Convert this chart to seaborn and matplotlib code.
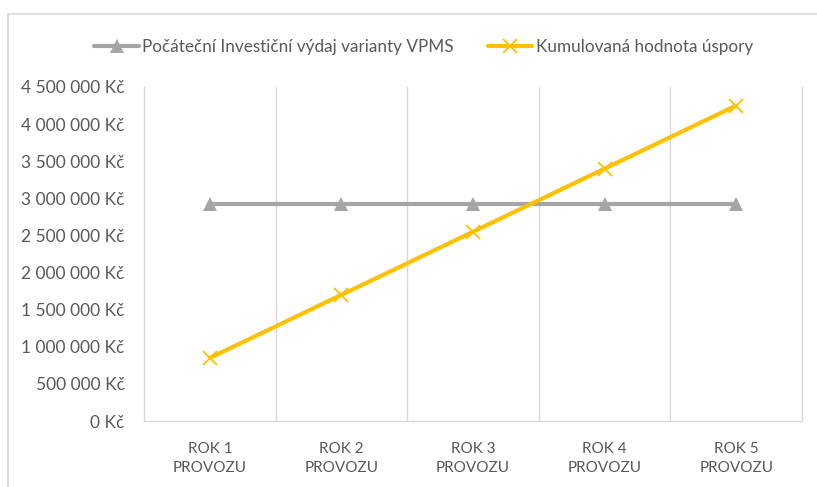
import matplotlib
matplotlib.use('Agg')
import matplotlib.pyplot as plt
import matplotlib.ticker as mticker
import seaborn as sns
import pandas as pd

# Data
roky = ['ROK 1\nPROVOZU', 'ROK 2\nPROVOZU', 'ROK 3\nPROVOZU', 'ROK 4\nPROVOZU', 'ROK 5\nPROVOZU']
investicni_vydaj = [2930000, 2930000, 2930000, 2930000, 2930000]
kumulovana_uspora = [850000, 1700000, 2550000, 3400000, 4250000]
nazev_vydaj = 'Počáteční Investiční výdaj varianty VPMS'
nazev_uspora = 'Kumulovaná hodnota úspory'

df = pd.DataFrame({'rok': roky, 'vydaj': investicni_vydaj, 'uspora': kumulovana_uspora})

sns.set_style('white')
plt.rcParams['font.family'] = ['Lato', 'DejaVu Sans']
text_col = '#595959'
grid_col = '#D9D9D9'
seda = '#A5A5A5'
zluta = '#FFC000'

fig = plt.figure(figsize=(8.17, 4.87), dpi=100)
ax = fig.add_axes([0.1763, 0.1355, 0.8053, 0.6859])

sns.lineplot(data=df, x='rok', y='vydaj', ax=ax, color=seda, linewidth=3,
             marker='^', markersize=10, markeredgewidth=0, markeredgecolor=seda,
             label=nazev_vydaj, sort=False)
sns.lineplot(data=df, x='rok', y='uspora', ax=ax, color=zluta, linewidth=3,
             marker='x', markersize=10, markeredgewidth=1.3, markeredgecolor=zluta,
             label=nazev_uspora, sort=False)

ax.set_xlim(-0.5, 4.5)
ax.set_ylim(0, 4500000)
ax.yaxis.set_major_locator(mticker.MultipleLocator(500000))
ax.yaxis.set_major_formatter(mticker.FuncFormatter(
    lambda v, p: '{:,.0f} Kč'.format(v).replace(',', ' ')))
ax.xaxis.set_minor_locator(mticker.FixedLocator([0.5, 1.5, 2.5, 3.5]))
ax.grid(which='minor', axis='x', color=grid_col, linewidth=1)
ax.grid(which='major', visible=False)
ax.set_xlabel('')
ax.set_ylabel('')
ax.tick_params(axis='both', which='both', length=0, labelcolor=text_col, labelsize=12.5)
ax.tick_params(axis='x', pad=15)
ax.tick_params(axis='y', pad=14)
for lbl in ax.get_xticklabels():
    lbl.set_linespacing(1.45)
    lbl.set_fontsize(11)

ax.spines['top'].set_visible(False)
for s in ['left', 'bottom', 'right']:
    ax.spines[s].set_color(grid_col)
    ax.spines[s].set_linewidth(1)

leg = ax.legend(loc='upper center', bbox_to_anchor=(0.425, 1.19), ncol=2, frameon=False,
                fontsize=12.3, handlelength=2.6, handletextpad=0.2, columnspacing=2.0)
for t in leg.get_texts():
    t.set_color(text_col)

# Outer chart frame
fig.add_artist(plt.Line2D([8 / 817, 8 / 817], [0, 1 - 14 / 487], color=grid_col,
                          linewidth=1.2, transform=fig.transFigure))
fig.add_artist(plt.Line2D([8 / 817, 1], [1 - 14 / 487, 1 - 14 / 487], color=grid_col,
                          linewidth=1.2, transform=fig.transFigure))

fig.savefig('out.png', dpi=100)
